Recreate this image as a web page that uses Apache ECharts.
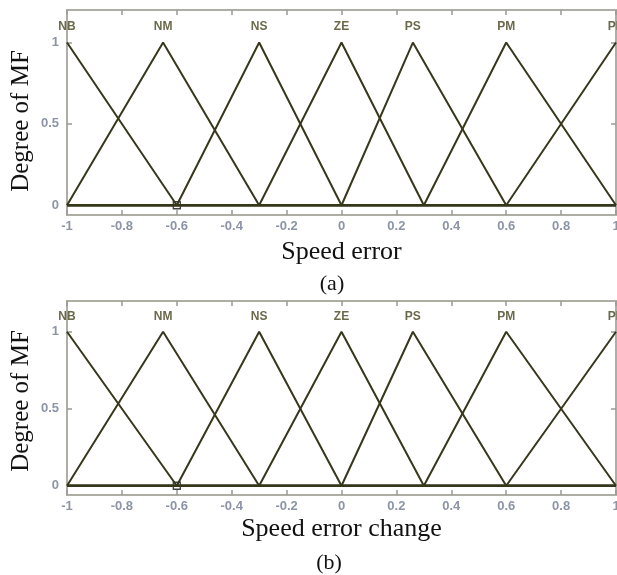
<!DOCTYPE html>
<html>
<head>
<meta charset="utf-8">
<script src="https://cdn.jsdelivr.net/npm/echarts@6/dist/echarts.min.js"></script>
<style>html,body{margin:0;padding:0;background:#fff;overflow:hidden;}#c{width:617px;height:575px;}</style>
</head>
<body>
<div id="c"></div>
<script>
// Membership functions (triangular: a = left foot, b = peak, c = right foot)
const mfNames = ['NB', 'NM', 'NS', 'ZE', 'PS', 'PM', 'PB'];
const mfA = [-1.4, -1.0, -0.6, -0.3, 0.0, 0.3, 0.6];
const mfB = [-1.0, -0.65, -0.3, 0.0, 0.26, 0.6, 1.0];
const mfC = [-0.6, -0.3, 0.0, 0.3, 0.6, 1.0, 1.4];
const xRange = [-1, 1];
const xTickValues = [-1, -0.8, -0.6, -0.4, -0.2, 0, 0.2, 0.4, 0.6, 0.8, 1];
const yTickValues = [0, 0.5, 1];
const markerPoint = [[-0.6, 0]];
const labelLevel = 1.1;
const xTitles = ['Speed error', 'Speed error change'];
const subCaptions = ['(a)', '(b)'];
const yTitle = 'Degree of MF';

function mu(x, a, b, c) {
  return Math.max(0, Math.min((x - a) / (b - a), (c - x) / (c - b)));
}
function mfData(i) {
  const a = mfA[i], b = mfB[i], c = mfC[i];
  let xs = [xRange[0], a, b, c, xRange[1]].filter(v => v >= xRange[0] && v <= xRange[1]);
  xs = Array.from(new Set(xs)).sort((p, q) => p - q);
  return xs.map(x => [x, +mu(x, a, b, c).toFixed(4)]);
}

const grids = [
  { left: 67, top: 10, width: 549, height: 205 },
  { left: 67, top: 301, width: 549, height: 194 }
];
const frameColor = '#aeaea6';
const tickColor = '#9a9a92';
const lineColor = '#37371b';
const labelStyle = { fontFamily: 'Liberation Sans', fontWeight: 'bold', fontSize: 13, color: '#8c94a6' };

const xAxes = [], yAxes = [], series = [];
grids.forEach((g, gi) => {
  xAxes.push({
    gridIndex: gi, type: 'value', min: xRange[0], max: xRange[1], interval: 0.2, position: 'bottom',
    axisLine: { show: false, onZero: false }, splitLine: { show: false },
    axisTick: { show: true, inside: true, length: 5, customValues: xTickValues, lineStyle: { color: tickColor, width: 1.5 } },
    axisLabel: Object.assign({ margin: 5, customValues: xTickValues,
      formatter: v => String(+v.toFixed(1)) }, labelStyle),
    name: xTitles[gi], nameLocation: 'middle', nameGap: gi === 0 ? 24 : 21,
    nameTextStyle: { fontFamily: 'Liberation Serif', fontSize: 26, color: '#111' }
  });
  xAxes.push({
    gridIndex: gi, type: 'value', min: xRange[0], max: xRange[1], interval: 0.2, position: 'top',
    axisLine: { show: false, onZero: false }, splitLine: { show: false }, axisLabel: { show: false },
    axisTick: { show: true, inside: true, length: 5, customValues: xTickValues, lineStyle: { color: tickColor, width: 1.5 } }
  });
  yAxes.push({
    gridIndex: gi, type: 'value', min: -0.06, max: 1.2, position: 'left',
    axisLine: { show: false, onZero: false }, splitLine: { show: false },
    axisTick: { show: true, inside: true, length: 5, customValues: yTickValues, lineStyle: { color: tickColor, width: 1.5 } },
    axisLabel: Object.assign({ margin: 8, customValues: yTickValues,
      formatter: v => String(+v.toFixed(1)) }, labelStyle)
  });
  yAxes.push({
    gridIndex: gi, type: 'value', min: -0.06, max: 1.2, position: 'right',
    axisLine: { show: false, onZero: false }, splitLine: { show: false }, axisLabel: { show: false },
    axisTick: { show: true, inside: true, length: 5, customValues: yTickValues, lineStyle: { color: tickColor, width: 1.5 } }
  });
  mfNames.forEach((n, i) => {
    series.push({
      type: 'line', name: n, xAxisIndex: gi * 2, yAxisIndex: gi * 2, data: mfData(i),
      showSymbol: false, symbol: 'none', clip: true, animation: false,
      lineStyle: { color: lineColor, width: 2 }
    });
  });
  series.push({
    type: 'scatter', xAxisIndex: gi * 2, yAxisIndex: gi * 2, animation: false, clip: false,
    symbolSize: 0, silent: true,
    data: mfNames.map((n, i) => ({ name: n, value: [mfB[i], labelLevel] })),
    label: { show: true, position: 'inside', formatter: p => p.name,
      fontFamily: 'Liberation Sans', fontWeight: 'bold', fontSize: 12, color: '#45441e' }
  });
  series.push({
    type: 'scatter', xAxisIndex: gi * 2, yAxisIndex: gi * 2, animation: false,
    symbol: 'rect', symbolSize: 7, data: markerPoint,
    itemStyle: { color: '#ffffff', borderColor: '#111', borderWidth: 1.3 }
  });
});

const chart = echarts.init(document.getElementById('c'), null, { renderer: 'canvas' });
chart.setOption({
  backgroundColor: '#ffffff',
  animation: false,
  grid: grids.map(g => Object.assign({ show: true, borderColor: frameColor, borderWidth: 2,
    backgroundColor: 'transparent', outerBoundsMode: 'none', containLabel: false }, g)),
  xAxis: xAxes,
  yAxis: yAxes,
  series: series,
  graphic: [
    { type: 'text', x: 21, y: 121, rotation: Math.PI / 2,
      style: { text: yTitle, align: 'center', verticalAlign: 'middle', font: '25px "Liberation Serif"', fill: '#111' } },
    { type: 'text', x: 21, y: 401, rotation: Math.PI / 2,
      style: { text: yTitle, align: 'center', verticalAlign: 'middle', font: '25px "Liberation Serif"', fill: '#111' } },
    { type: 'text', x: 332, y: 284,
      style: { text: subCaptions[0], align: 'center', verticalAlign: 'middle', font: '22px "Liberation Serif"', fill: '#111' } },
    { type: 'text', x: 329, y: 563,
      style: { text: subCaptions[1], align: 'center', verticalAlign: 'middle', font: '22px "Liberation Serif"', fill: '#111' } }
  ]
});
</script>
</body>
</html>
